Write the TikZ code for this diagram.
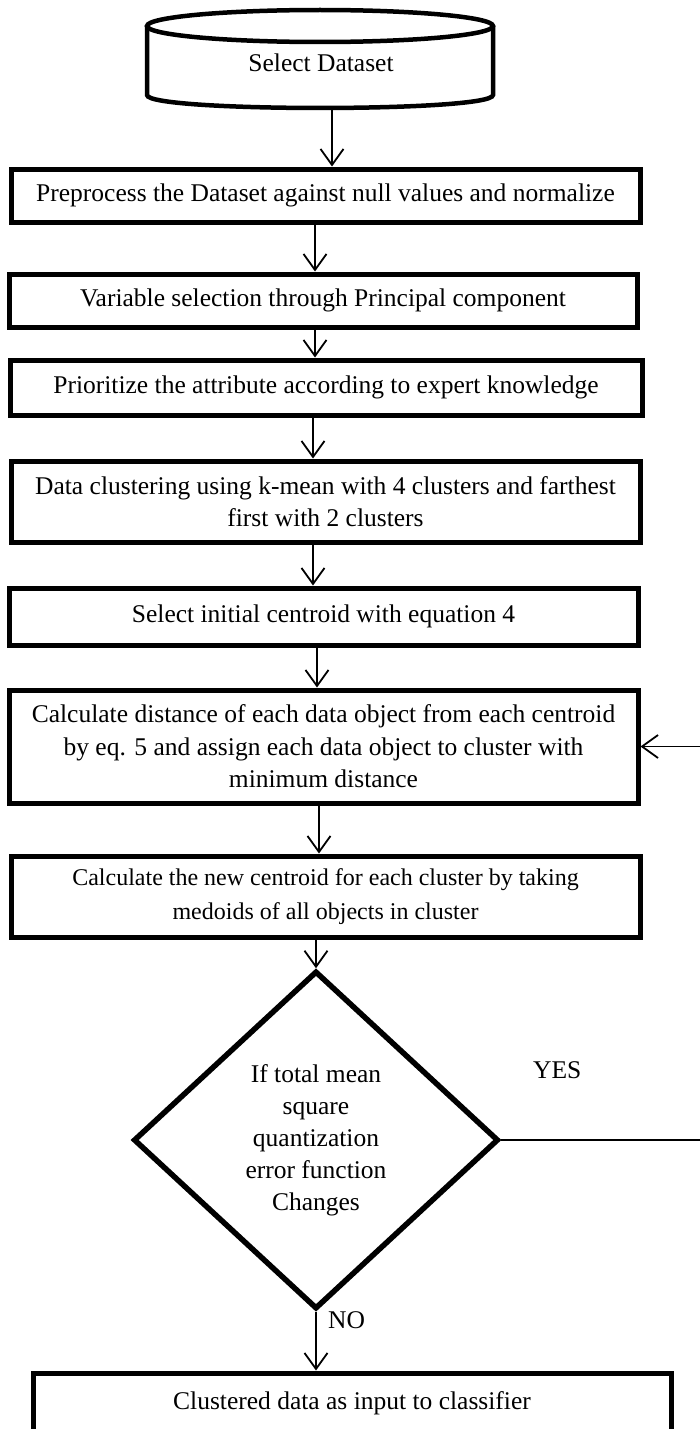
\documentclass[tikz,border=0pt]{standalone}
\usepackage{fontspec}
\setmainfont{Liberation Serif}
\usetikzlibrary{shapes.geometric,arrows.meta}
\tikzset{
  boxnode/.style={draw, line width=5pt, rectangle, align=center, inner sep=0pt,
    font=\fontsize{25.5}{32.5}\selectfont},
  timesbox/.style={boxnode, font=\fontsize{24}{34}\selectfont},
  decision/.style={draw, line width=5.5pt, diamond, align=center, inner sep=0pt,
    font=\fontsize{25.5}{32}\selectfont},
  arr/.style={line width=1.8pt, -{Straight Barb[length=16pt,width=23pt]}},
  lbl/.style={font=\fontsize{25.5}{30}\selectfont, inner sep=0pt},
  cylline/.style={line width=4.5pt}
}
\begin{document}
\begin{tikzpicture}[x=1pt,y=-1pt]
\useasboundingbox (0,0) rectangle (700,1429);
\clip (0,0) rectangle (700,1429);
\fill[white] (0,0) rectangle (700,1429);

% cylinder "Select Dataset"
\node[inner sep=0pt, outer sep=0pt, minimum width=346pt, minimum height=98pt] (ds) at (320,59) {};
\draw[cylline] (320,26) ellipse [x radius=173, y radius=16];
\draw[cylline] (147,26) -- (147,95) .. controls (147,112.3) and (493,112.3) .. (493,95) -- (493,26);
\node[lbl] (dstext) at (321,63) {Select Dataset};

\node[boxnode, minimum width=629pt, minimum height=53pt] (b2) at (325.5,195.5)
  {Preprocess the Dataset against null values and normalize};
\node[boxnode, minimum width=628pt, minimum height=53pt] (b3) at (323,300.5)
  {Variable selection through Principal component};
\node[boxnode, minimum width=632pt, minimum height=55pt] (b4) at (326,387.5)
  {Prioritize the attribute according to expert knowledge};
\node[boxnode, minimum width=629pt, minimum height=81pt] (b5) at (325.5,501.5)
  {Data clustering using k-mean with 4 clusters and farthest\\first with 2 clusters};
\node[boxnode, minimum width=629pt, minimum height=57pt] (b6) at (323.5,616.5)
  {Select initial centroid with equation 4};
\node[boxnode, minimum width=629pt, minimum height=113pt] (b7) at (323.5,746.5)
  {Calculate distance of each data object from each centroid\\by eq. 5 and assign each data object to cluster with\\minimum distance};
\node[timesbox, minimum width=629pt, minimum height=81pt] (b8) at (325.5,896.5)
  {Calculate the new centroid for each cluster by taking\\medoids of all objects in cluster};
\node[decision, minimum width=365pt, minimum height=338pt] (dia) at (316,1140)
  {If total mean\\square\\quantization\\error function\\Changes};
\node[boxnode, minimum width=638pt, minimum height=61pt] (b9) at (352,1403.5)
  {Clustered data as input to classifier};

% connectors
\draw[arr] ([xshift=12pt]ds.south) -- ([xshift=6.5pt]b2.north);
\draw[arr] ([xshift=-10.5pt]b2.south) -- ([xshift=-8pt]b3.north);
\draw[arr] ([xshift=-8pt]b3.south) -- ([xshift=-11pt]b4.north);
\draw[arr] ([xshift=-13pt]b4.south) -- ([xshift=-12.5pt]b5.north);
\draw[arr] ([xshift=-12.5pt]b5.south) -- ([xshift=-10.5pt]b6.north);
\draw[arr] ([xshift=-6.5pt]b6.south) -- ([xshift=-6.5pt]b7.north);
\draw[arr] ([xshift=-4.5pt]b7.south) -- ([xshift=-6.5pt]b8.north);
\draw[arr] ([xshift=-9.5pt]b8.south) -- (dia.north);
\draw[arr] (dia.south) -- (dia.south |- b9.north);
\coordinate (loopcorner) at (704,1140);
\draw[arr] (dia.east) -- (loopcorner) -- (loopcorner |- b7.east) -- (b7.east);

\node[lbl, anchor=west] (yes) at (533,1070) {YES};
\node[lbl, anchor=west] (no) at (328,1320) {NO};
\end{tikzpicture}
\end{document}
